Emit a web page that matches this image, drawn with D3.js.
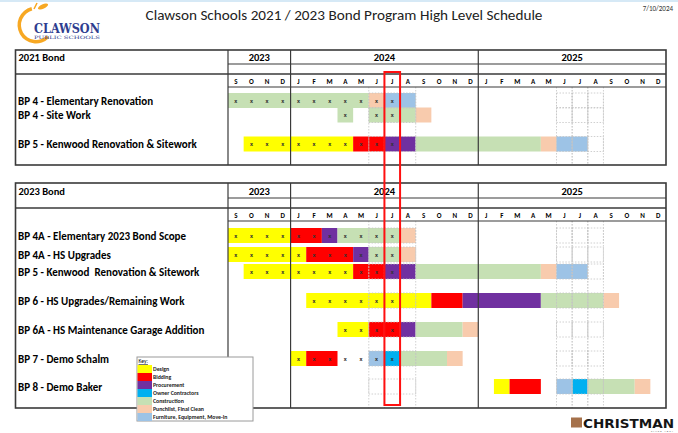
<!DOCTYPE html>
<html>
<head>
<meta charset="utf-8">
<script src="https://cdn.jsdelivr.net/npm/d3@7"></script>
<style>
body { margin: 0; background: #fff; }
svg { display: block; font-family: Carlito, Lato, 'Noto Sans', sans-serif; }
</style>
</head>
<body>
<div id="chart"></div>
<script>
var phases = ['Design', 'Bidding', 'Procurement', 'Owner Contractors', 'Construction', 'Punchlist, Final Clean', 'Furniture, Equipment, Move-In'];
var phaseColors = ['#ffff00', '#ff0000', '#7030a0', '#00b0f0', '#c6e0b4', '#f8cbad', '#9dc3e6'];

var years = ['2023', '2024', '2025'];
var monthLetters = ['S','O','N','D','J','F','M','A','M','J','J','A','S','O','N','D','J','F','M','A','M','J','J','A','S','O','N','D'];

var rows2021 = ['BP 4 - Elementary Renovation', 'BP 4 - Site Work', 'BP 5 - Kenwood Renovation & Sitework'];
// row, phase, first month, last month
var bars2021 = [
    [0, 'Construction', '2023-09', '2024-05'],
    [0, 'Punchlist, Final Clean', '2024-06', '2024-06'],
    [0, 'Furniture, Equipment, Move-In', '2024-07', '2024-08'],
    [1, 'Construction', '2024-04', '2024-04'],
    [1, 'Construction', '2024-06', '2024-08'],
    [1, 'Punchlist, Final Clean', '2024-09', '2024-09'],
    [2, 'Design', '2023-10', '2024-04'],
    [2, 'Bidding', '2024-05', '2024-06'],
    [2, 'Procurement', '2024-07', '2024-08'],
    [2, 'Construction', '2024-09', '2025-04'],
    [2, 'Punchlist, Final Clean', '2025-05', '2025-05'],
    [2, 'Furniture, Equipment, Move-In', '2025-06', '2025-07']
];
// months carrying an "x"
var marks2021 = [
    [0, '2023-09', '2024-07'],
    [1, '2024-04', '2024-04'],
    [1, '2024-06', '2024-07'],
    [2, '2023-10', '2024-07']
];

var rows2023 = ['BP 4A - Elementary 2023 Bond Scope', 'BP 4A - HS Upgrades', 'BP 5 - Kenwood  Renovation & Sitework',
    'BP 6 - HS Upgrades/Remaining Work', 'BP 6A - HS Maintenance Garage Addition', 'BP 7 - Demo Schalm', 'BP 8 - Demo Baker'];
var bars2023 = [
    [0, 'Design', '2023-09', '2023-12'],
    [0, 'Bidding', '2024-01', '2024-02'],
    [0, 'Procurement', '2024-03', '2024-03'],
    [0, 'Construction', '2024-04', '2024-07'],
    [0, 'Punchlist, Final Clean', '2024-08', '2024-08'],
    [1, 'Design', '2023-09', '2024-01'],
    [1, 'Bidding', '2024-02', '2024-04'],
    [1, 'Procurement', '2024-05', '2024-05'],
    [1, 'Construction', '2024-06', '2024-07'],
    [1, 'Punchlist, Final Clean', '2024-08', '2024-08'],
    [2, 'Design', '2023-10', '2024-04'],
    [2, 'Bidding', '2024-05', '2024-06'],
    [2, 'Procurement', '2024-07', '2024-08'],
    [2, 'Construction', '2024-09', '2025-04'],
    [2, 'Punchlist, Final Clean', '2025-05', '2025-05'],
    [2, 'Furniture, Equipment, Move-In', '2025-06', '2025-07'],
    [3, 'Design', '2024-02', '2024-09'],
    [3, 'Bidding', '2024-10', '2024-11'],
    [3, 'Procurement', '2024-12', '2025-04'],
    [3, 'Construction', '2025-05', '2025-08'],
    [3, 'Punchlist, Final Clean', '2025-09', '2025-09'],
    [4, 'Design', '2024-04', '2024-05'],
    [4, 'Bidding', '2024-06', '2024-07'],
    [4, 'Procurement', '2024-08', '2024-08'],
    [4, 'Construction', '2024-09', '2024-11'],
    [4, 'Punchlist, Final Clean', '2024-12', '2024-12'],
    [5, 'Design', '2024-01', '2024-01'],
    [5, 'Bidding', '2024-02', '2024-03'],
    [5, 'Furniture, Equipment, Move-In', '2024-06', '2024-06'],
    [5, 'Owner Contractors', '2024-07', '2024-07'],
    [5, 'Construction', '2024-08', '2024-10'],
    [5, 'Punchlist, Final Clean', '2024-11', '2024-11'],
    [6, 'Design', '2025-02', '2025-02'],
    [6, 'Bidding', '2025-03', '2025-04'],
    [6, 'Furniture, Equipment, Move-In', '2025-06', '2025-06'],
    [6, 'Owner Contractors', '2025-07', '2025-07'],
    [6, 'Construction', '2025-08', '2025-10'],
    [6, 'Punchlist, Final Clean', '2025-11', '2025-11']
];
var marks2023 = [
    [0, '2023-09', '2024-07'],
    [1, '2023-09', '2024-07'],
    [2, '2023-10', '2024-07'],
    [3, '2024-02', '2024-07'],
    [4, '2024-04', '2024-07'],
    [5, '2024-01', '2024-07']
];

var dottedMonths = ['2024-06', '2024-07', '2024-08', '2025-06', '2025-07', '2025-08'];
var currentMonth = '2024-07';

var width = 678;
var height = 433;
var fmt = d3.timeFormat('%Y-%m');
var monthKeys = d3.timeMonth.range(new Date(2023, 8, 1), new Date(2026, 0, 1)).map(fmt);

var tLeft = 15.5;
var tRight = 666;
var labelRight = 228;
var barH = 15;

var svg = d3.select('#chart').append('svg')
    .attr('width', width)
    .attr('height', height);

var x = d3.scaleBand().domain(monthKeys).range([labelRight, tRight]);
var color = d3.scaleOrdinal(phases, phaseColors);

function span(a, b) {
    return monthKeys.slice(monthKeys.indexOf(a), monthKeys.indexOf(b) + 1);
}

function yearRange(yr) {
    var ks = monthKeys.filter(k => k.slice(0, 4) === yr);
    return [x(ks[0]), x(ks[ks.length - 1]) + x.bandwidth()];
}

function drawTable(cfg) {
    var g = svg.append('g');
    var y = d3.scaleOrdinal(d3.range(cfg.rows.length), cfg.rowY);

    g.selectAll('rect.bar')
        .data(cfg.bars)
        .enter()
        .append('rect')
        .attr('class', 'bar')
        .attr('x', d => x(d[2]))
        .attr('width', d => x(d[3]) + x.bandwidth() - x(d[2]))
        .attr('y', d => y(d[0]) - barH / 2)
        .attr('height', barH)
        .attr('fill', d => color(d[1]));

    // dotted cell outlines
    var dot = g.append('g')
        .attr('stroke', '#c4c4c4')
        .attr('stroke-width', 0.8)
        .attr('stroke-dasharray', '1.5,1.5')
        .attr('fill', 'none');
    dottedMonths.forEach(m => {
        dot.append('line')
            .attr('x1', x(m)).attr('x2', x(m))
            .attr('y1', cfg.monthLine).attr('y2', cfg.bottom);
        dot.append('line')
            .attr('x1', x(m) + x.bandwidth()).attr('x2', x(m) + x.bandwidth())
            .attr('y1', cfg.monthLine).attr('y2', cfg.bottom);
        cfg.rowY.forEach(r => {
            dot.append('rect')
                .attr('x', x(m)).attr('width', x.bandwidth())
                .attr('y', r - barH / 2).attr('height', barH);
        });
    });

    var marks = [];
    cfg.marks.forEach(mk => span(mk[1], mk[2]).forEach(m => marks.push([mk[0], m])));
    g.selectAll('text.mark')
        .data(marks)
        .enter()
        .append('text')
        .attr('class', 'mark')
        .attr('x', d => x(d[1]) + x.bandwidth() / 2)
        .attr('y', d => y(d[0]) + 2)
        .attr('text-anchor', 'middle')
        .attr('font-size', 6.5)
        .attr('font-weight', 'bold')
        .attr('fill', '#333')
        .text('x');

    // grid lines
    var lines = g.append('g').attr('stroke', '#3a3a3a').attr('fill', 'none');
    lines.append('rect')
        .attr('x', tLeft).attr('y', cfg.top)
        .attr('width', tRight - tLeft).attr('height', cfg.bottom - cfg.top)
        .attr('stroke-width', 1.6);
    lines.append('line').attr('x1', labelRight).attr('x2', tRight)
        .attr('y1', cfg.yearLine).attr('y2', cfg.yearLine).attr('stroke-width', 1.2);
    lines.append('line').attr('x1', tLeft).attr('x2', tRight)
        .attr('y1', cfg.thinLine).attr('y2', cfg.thinLine).attr('stroke-width', 1.4);
    lines.append('line').attr('x1', labelRight).attr('x2', tRight)
        .attr('y1', cfg.monthLine).attr('y2', cfg.monthLine).attr('stroke-width', 1.2);
    years.forEach(yr => {
        var r = yearRange(yr);
        lines.append('line').attr('x1', r[0]).attr('x2', r[0])
            .attr('y1', cfg.top).attr('y2', cfg.bottom).attr('stroke-width', 1.2);
    });

    g.selectAll('text.year')
        .data(years)
        .enter()
        .append('text')
        .attr('class', 'year')
        .attr('x', d => d3.mean(yearRange(d)))
        .attr('y', cfg.yearLine - 3.5)
        .attr('text-anchor', 'middle')
        .attr('font-size', 10.5)
        .attr('font-weight', 'bold')
        .text(d => d);

    g.selectAll('text.month')
        .data(monthKeys)
        .enter()
        .append('text')
        .attr('class', 'month')
        .attr('x', d => x(d) + x.bandwidth() / 2)
        .attr('y', cfg.monthLine - 3.5)
        .attr('text-anchor', 'middle')
        .attr('font-size', 7)
        .attr('font-weight', 'bold')
        .text((d, i) => monthLetters[i]);

    g.append('text')
        .attr('x', tLeft + 3)
        .attr('y', cfg.yearLine - 3.5)
        .attr('font-size', 10.5)
        .attr('font-weight', 'bold')
        .text(cfg.title);

    g.selectAll('text.row')
        .data(cfg.rows)
        .enter()
        .append('text')
        .attr('class', 'row')
        .attr('x', tLeft + 2.5)
        .attr('y', (d, i) => y(i) + 4)
        .attr('font-size', 11)
        .attr('font-weight', 'bold')
        .style('white-space', 'pre')
        .text(d => d);
}

svg.append('rect').attr('x', 0).attr('y', 0).attr('width', width).attr('height', 2).attr('fill', '#d6e9f6');

drawTable({
    title: '2021 Bond', rows: rows2021, bars: bars2021, marks: marks2021,
    top: 50, yearLine: 64, thinLine: 74, monthLine: 87, bottom: 165,
    rowY: [100.5, 115, 144]
});

drawTable({
    title: '2023 Bond', rows: rows2023, bars: bars2023, marks: marks2023,
    top: 183, yearLine: 198, thinLine: 208, monthLine: 221, bottom: 408,
    rowY: [235.5, 254.5, 271.5, 300.5, 329.5, 358.5, 386.5]
});

// current month marker
svg.append('rect')
    .attr('x', x(currentMonth))
    .attr('y', 72)
    .attr('width', x.bandwidth())
    .attr('height', 333)
    .attr('fill', 'none')
    .attr('stroke', '#ff1010')
    .attr('stroke-width', 2);

// title + date
svg.append('text')
    .attr('x', 344)
    .attr('y', 20)
    .attr('text-anchor', 'middle')
    .attr('font-size', 15.2)
    .attr('fill', '#222')
    .text('Clawson Schools 2021 / 2023 Bond Program High Level Schedule');

svg.append('text')
    .attr('x', 673)
    .attr('y', 11)
    .attr('text-anchor', 'end')
    .attr('font-size', 7)
    .attr('fill', '#333')
    .text('7/10/2024');

// Clawson logo
var logo = svg.append('g');
logo.append('path')
    .attr('transform', 'translate(36,25)')
    .attr('d', d3.arc()({innerRadius: 15, outerRadius: 18.5, startAngle: Math.PI * 0.75, endAngle: Math.PI * 1.92}))
    .attr('fill', '#f7a823');
logo.append('ellipse')
    .attr('cx', 43).attr('cy', 6.5).attr('rx', 5.5).attr('ry', 2.2)
    .attr('transform', 'rotate(-25,43,6.5)')
    .attr('fill', '#f7a823');
logo.append('line')
    .attr('x1', 34).attr('y1', 9).attr('x2', 37).attr('y2', 3)
    .attr('stroke', '#f7a823').attr('stroke-width', 1.6);
logo.append('text')
    .attr('x', 34).attr('y', 33)
    .attr('font-family', "'DejaVu Serif', serif")
    .attr('font-weight', 'bold')
    .attr('font-size', 12.5)
    .attr('textLength', 66)
    .attr('lengthAdjust', 'spacingAndGlyphs')
    .attr('fill', '#2e3d8f')
    .text('CLAWSON');
logo.append('text')
    .attr('x', 34).attr('y', 38.5)
    .attr('font-family', "'DejaVu Serif', serif")
    .attr('font-size', 4.5)
    .attr('textLength', 66)
    .attr('lengthAdjust', 'spacingAndGlyphs')
    .attr('fill', '#2e3d8f')
    .text('PUBLIC SCHOOLS');

// Christman logo
svg.append('rect').attr('x', 571).attr('y', 417.5).attr('width', 11).attr('height', 10).attr('fill', '#a5714b');
svg.append('text')
    .attr('x', 583).attr('y', 427.5)
    .attr('font-family', "'DejaVu Sans', sans-serif")
    .attr('font-weight', 'bold')
    .attr('font-size', 13)
    .attr('textLength', 91)
    .attr('lengthAdjust', 'spacingAndGlyphs')
    .attr('fill', '#151515')
    .text('CHRISTMAN');
svg.append('text')
    .attr('x', 674).attr('y', 432.3)
    .attr('text-anchor', 'end')
    .attr('font-size', 2.8)
    .attr('letter-spacing', 1)
    .attr('fill', '#555')
    .text('SINCE 1894');

// key
var key = svg.append('g');
var ky = d3.scaleBand().domain(phases).range([365, 421]);
key.append('rect')
    .attr('x', 137).attr('y', 357).attr('width', 116).attr('height', 64)
    .attr('fill', '#fff').attr('stroke', '#9a9a9a').attr('stroke-width', 1);
key.append('text')
    .attr('x', 138.5).attr('y', 363)
    .attr('font-size', 5.5)
    .attr('text-decoration', 'underline')
    .text('Key:');
key.selectAll('rect.sw')
    .data(phases)
    .enter()
    .append('rect')
    .attr('class', 'sw')
    .attr('x', 137.5)
    .attr('y', d => ky(d))
    .attr('width', 14.5)
    .attr('height', ky.bandwidth())
    .attr('fill', d => color(d));
key.selectAll('text.kl')
    .data(phases)
    .enter()
    .append('text')
    .attr('class', 'kl')
    .attr('x', 153)
    .attr('y', d => ky(d) + ky.bandwidth() / 2 + 2)
    .attr('font-size', 5.8)
    .attr('font-weight', 'bold')
    .attr('fill', '#222')
    .text(d => d);
</script>
</body>
</html>
